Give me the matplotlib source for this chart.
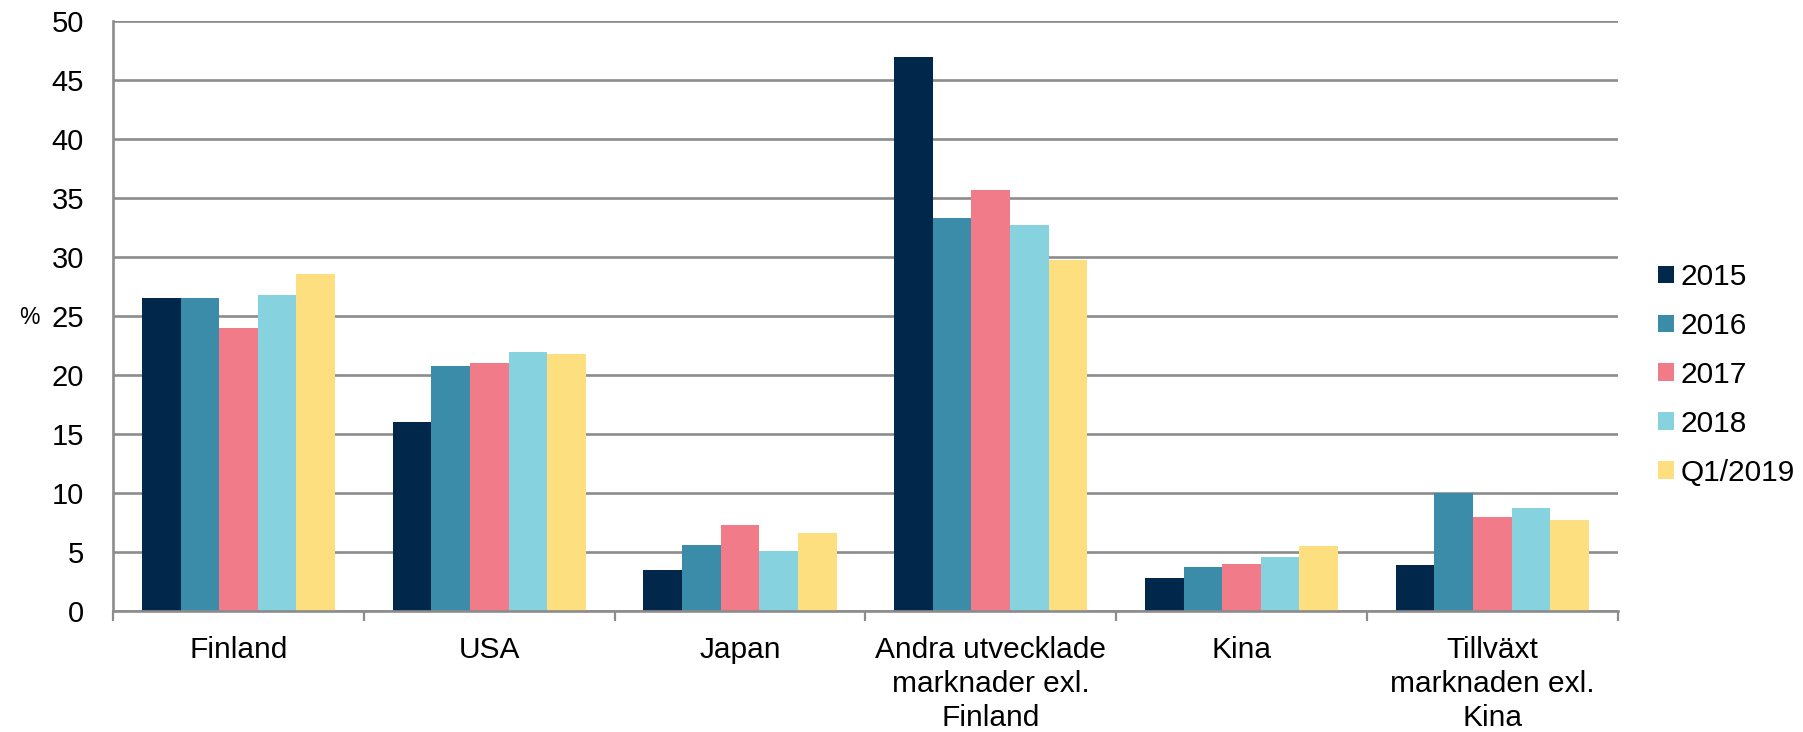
import matplotlib
matplotlib.use("Agg")
import matplotlib.pyplot as plt
import numpy as np

plt.rcParams['font.family'] = ['Liberation Sans', 'DejaVu Sans']

categories = ["Finland", "USA", "Japan", "Andra utvecklade\nmarknader exl.\nFinland",
              "Kina", "Tillväxt\nmarknaden exl.\nKina"]
series_names = ["2015", "2016", "2017", "2018", "Q1/2019"]
values_2015 = [26.5, 16.0, 3.5, 47.0, 2.8, 3.9]
values_2016 = [26.5, 20.8, 5.6, 33.3, 3.7, 10.0]
values_2017 = [24.0, 21.0, 7.3, 35.7, 4.0, 8.0]
values_2018 = [26.8, 22.0, 5.1, 32.7, 4.6, 8.7]
values_q1_2019 = [28.6, 21.8, 6.6, 29.8, 5.5, 7.7]
series_values = [values_2015, values_2016, values_2017, values_2018, values_q1_2019]
colors = ["#01274A", "#3A8CA9", "#F27B8A", "#86D2DF", "#FEDF7F"]
yticks = [0, 5, 10, 15, 20, 25, 30, 35, 40, 45, 50]

grid_color = "#8C8C8C"

fig = plt.figure(figsize=(18.03, 7.32), dpi=100)
ax = fig.add_axes([0.0627, 0.1653, 0.8345, 0.8056])

x = np.arange(len(categories))
bar_w = 0.154
n = len(series_names)
for i, (name, vals, c) in enumerate(zip(series_names, series_values, colors)):
    offs = (i - (n - 1) / 2) * bar_w
    ax.bar(x + offs, vals, width=bar_w, color=c, label=name, zorder=3, linewidth=0)

ax.set_xlim(-0.5, len(categories) - 0.5)
ax.set_ylim(0, 50)
ax.set_yticks(yticks)
ax.set_yticklabels([str(t) for t in yticks])
ax.yaxis.grid(True, color=grid_color, linewidth=1.9, zorder=0)
ax.set_axisbelow(True)

# category labels centred, tick marks at category boundaries
ax.set_xticks(x)
ax.set_xticklabels(categories, linespacing=1.28)
ax.set_xticks(np.arange(len(categories) + 1) - 0.5, minor=True)
ax.tick_params(axis='x', which='major', length=0, pad=18, labelsize=21.5, labelcolor='black')
ax.tick_params(axis='x', which='minor', length=7.5, width=1.6, color=grid_color, direction='out')
ax.tick_params(axis='y', which='major', length=0, pad=21, labelsize=21, labelcolor='black')

for side in ('top', 'right'):
    ax.spines[side].set_visible(False)
for side in ('left', 'bottom'):
    ax.spines[side].set_color(grid_color)
    ax.spines[side].set_linewidth(1.9)
    ax.spines[side].set_zorder(4)

fig.text(29 / 1803, 1 - 318 / 732, "%", fontsize=16.5, ha='center', va='center')

leg = fig.legend(loc='upper left', bbox_to_anchor=(1658 / 1803, 1 - 263 / 732),
                 frameon=False, fontsize=21.5, handlelength=0.53, handleheight=0.53,
                 handletextpad=0.22, labelspacing=0.70, borderpad=0, borderaxespad=0)

fig.savefig("out.png", dpi=100)
